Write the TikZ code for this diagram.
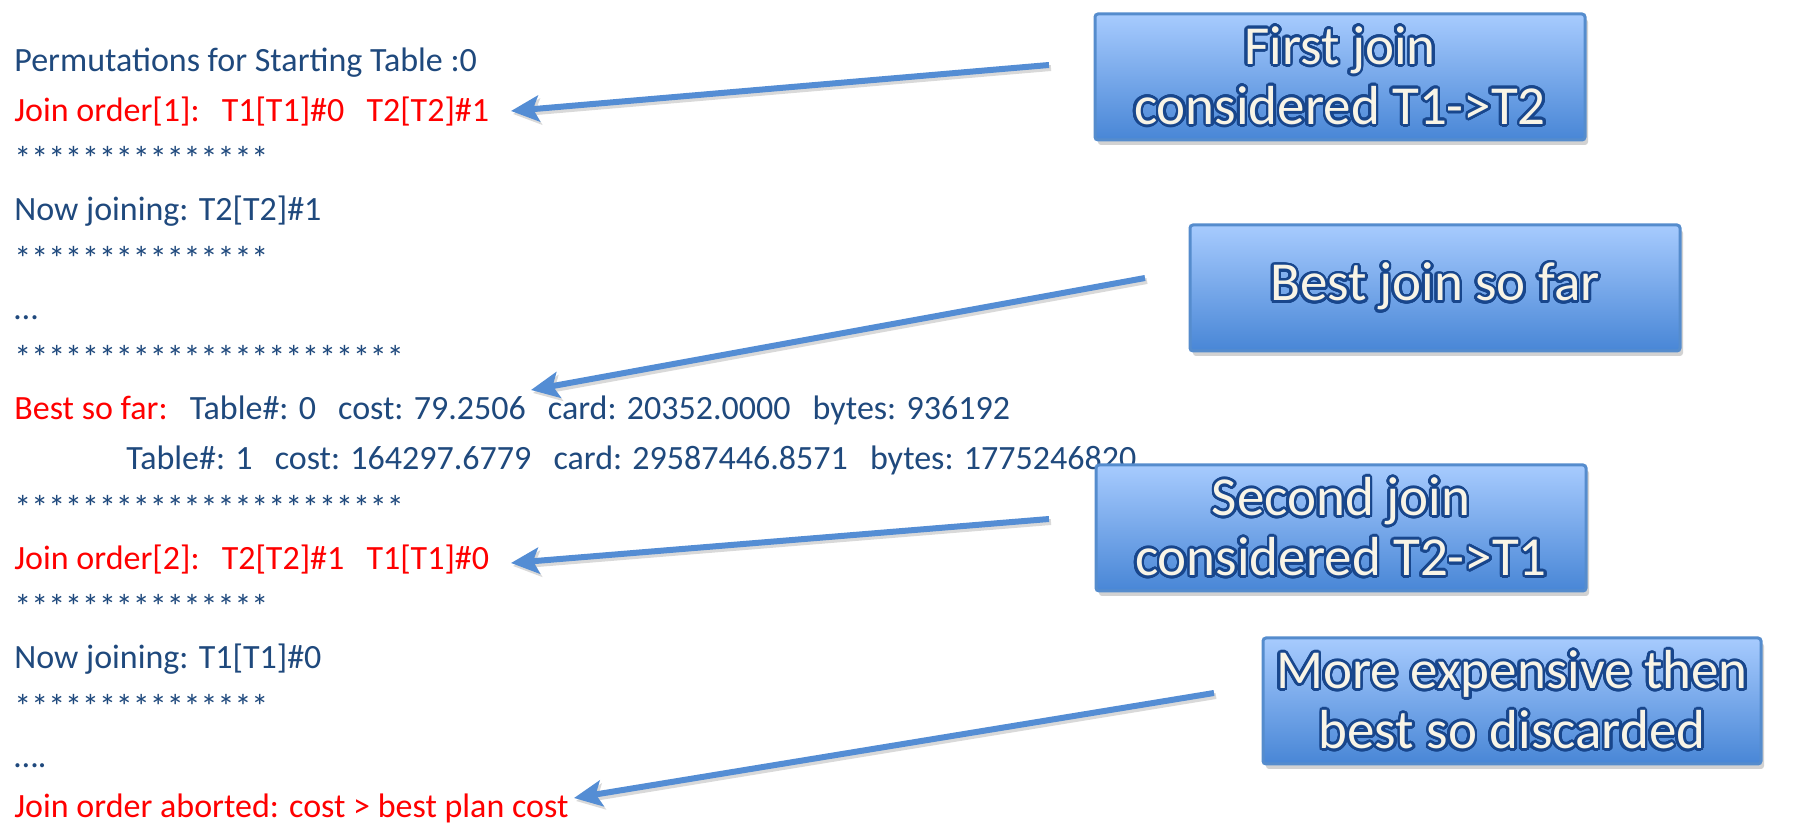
\documentclass[tikz,border=0pt]{standalone}
\usepackage{fontspec}
\setmainfont{Carlito}
\usepackage{contour}
\usetikzlibrary{arrows.meta,shadows}

\definecolor{logblue}{RGB}{31,73,125}
\definecolor{logred}{RGB}{255,0,0}
\definecolor{arrowblue}{RGB}{84,141,212}
\definecolor{boxedge}{RGB}{85,140,205}
\definecolor{boxtop}{RGB}{167,203,254}
\definecolor{boxmid}{RGB}{135,181,245}
\definecolor{boxbottom}{RGB}{72,134,214}
\definecolor{notefill}{RGB}{248,244,230}
\definecolor{noteline}{RGB}{24,70,140}

\contourlength{1.3pt}
\contournumber{32}

\tikzset{
  logline/.style={anchor=base west, inner sep=0pt, text=logblue,
    font=\fontsize{17}{20}\selectfont},
  notebox/.style={draw=boxedge, line width=1.5pt, rounded corners=1.5pt,
    top color=boxtop, middle color=boxmid, bottom color=boxbottom,
    drop shadow={opacity=0.35, shadow xshift=1.5pt, shadow yshift=-2.5pt},
    text=notefill, align=center, inner sep=0pt,
    minimum width=245pt, minimum height=63pt,
    font=\fontsize{27.5}{30}\selectfont},
  pointer/.style={draw=arrowblue, line width=3pt,
    -{Stealth[length=14pt,width=13pt,inset=3pt]},
    preaction={draw=black, opacity=0.15, line width=3pt,
      transform canvas={shift={(1pt,-1.5pt)}},
      -{Stealth[length=14pt,width=13pt,inset=3pt]}}}
}
\newcommand{\notetext}[1]{\contour{noteline}{#1}}
\newcommand{\wsp}{\hspace{0.65em}}

\begin{document}
\begin{tikzpicture}[x=0.5pt,y=-0.5pt]
  \useasboundingbox[fill=white] (0,0) rectangle (1801,833);

  % trace output, one line each
  \node[logline] (l1)  at (14,72)  {Permutations for Starting Table :0};
  \node[logline, text=logred] (l2) at (14,122)
    {Join order[1]:\wsp T1[T1]\#0\wsp T2[T2]\#1};
  \node[logline] (l3)  at (14,171) {***************};
  \node[logline] (l4)  at (14,221) {Now joining: T2[T2]\#1};
  \node[logline] (l5)  at (14,271) {***************};
  \node[logline] (l6)  at (14,320) {…};
  \node[logline] (l7)  at (14,370) {***********************};
  \node[logline] (l8)  at (14,420)
    {\textcolor{logred}{Best so far:}\wsp Table\#: 0\wsp cost: 79.2506\wsp card: 20352.0000\wsp bytes: 936192};
  \node[logline] (l9)  at (126,470)
    {Table\#: 1\wsp cost: 164297.6779\wsp card: 29587446.8571\wsp bytes: 1775246820};
  \node[logline] (l10) at (14,520) {***********************};
  \node[logline, text=logred] (l11) at (14,570)
    {Join order[2]:\wsp T2[T2]\#1\wsp T1[T1]\#0};
  \node[logline] (l12) at (14,619) {***************};
  \node[logline] (l13) at (14,669) {Now joining: T1[T1]\#0};
  \node[logline] (l14) at (14,719) {***************};
  \node[logline] (l15) at (14,768) {….};
  \node[logline, text=logred] (l16) at (14,818)
    {Join order aborted: cost > best plan cost};

  % call-outs
  \node[notebox] (first)  at (1340,77)
    {\notetext{First join}\\\notetext{considered T1->T2}};
  \node[notebox] (best)   at (1435,288) {\notetext{Best join so far}};
  \node[notebox] (second) at (1341,528)
    {\notetext{Second join}\\\notetext{considered T2->T1}};
  \node[notebox, minimum width=249pt] (worse) at (1512,701)
    {\notetext{More expensive then}\\\notetext{best so discarded}};

  % pointers
  \coordinate (firstout)  at (1049,65);
  \coordinate (firstin)   at (511,111);
  \coordinate (bestout)   at (1145,278);
  \coordinate (bestin)    at (531,390);
  \coordinate (secondout) at (1049,519);
  \coordinate (secondin)  at (511,563);
  \coordinate (worseout)  at (1214,693);
  \coordinate (worsein)   at (574,798);

  \draw[pointer] (firstout)  -- (firstin);
  \draw[pointer] (bestout)   -- (bestin);
  \draw[pointer] (secondout) -- (secondin);
  \draw[pointer] (worseout)  -- (worsein);
\end{tikzpicture}
\end{document}
